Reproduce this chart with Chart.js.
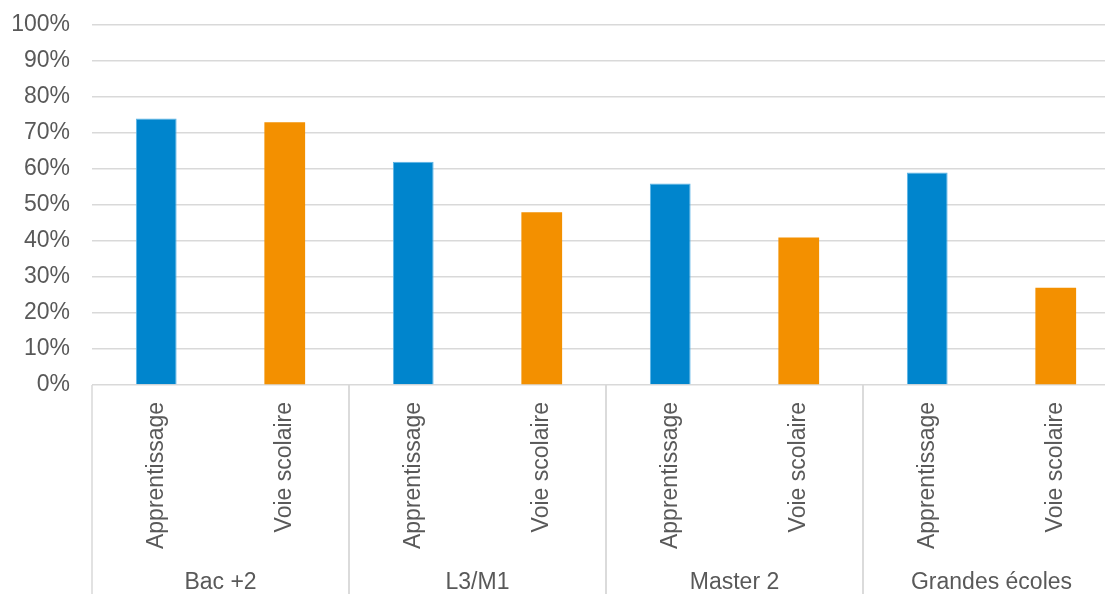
<!DOCTYPE html>
<html>
<head>
<meta charset="utf-8">
<script src="https://cdn.jsdelivr.net/npm/chart.js@4/dist/chart.umd.min.js"></script>
<style>
  html, body { margin: 0; padding: 0; overflow: hidden; background: #fff; }
  #wrap { width: 1120px; height: 594px; }
</style>
</head>
<body>
<div id="wrap"><canvas id="barChart"></canvas></div>
<script>
const groups = ['Bac +2', 'L3/M1', 'Master 2', 'Grandes écoles'];
const seriesNames = ['Apprentissage', 'Voie scolaire'];
const apprentissage = [74, 62, 56, 59];
const voieScolaire = [73, 48, 41, 27];
const yTickStep = 10;

const textColor = '#595959';
const lineColor = '#D9D9D9';
const fontSize = 23;
const font = fontSize + 'px "Liberation Sans", Arial, sans-serif';

// two-level x axis: rotated series names under each bar, group names below
const groupAxis = {
    id: 'groupAxis',
    afterDraw(chart) {
        const ctx = chart.ctx;
        const area = chart.chartArea;
        const x = chart.scales.x;
        ctx.save();
        ctx.font = font;
        ctx.fillStyle = textColor;
        chart.data.datasets.forEach((ds, i) => {
            chart.getDatasetMeta(i).data.forEach(bar => {
                ctx.save();
                ctx.translate(bar.x, area.bottom + 17);
                ctx.rotate(-Math.PI / 2);
                ctx.textAlign = 'right';
                ctx.textBaseline = 'middle';
                ctx.fillText(seriesNames[i], 0, 0);
                ctx.restore();
            });
        });
        const half = (x.getPixelForValue(1) - x.getPixelForValue(0)) / 2;
        ctx.strokeStyle = lineColor;
        ctx.lineWidth = 1.5;
        groups.forEach((g, j) => {
            const cx = x.getPixelForValue(j);
            [cx - half, cx + half].forEach(bx => {
                ctx.beginPath();
                ctx.moveTo(bx, area.bottom);
                ctx.lineTo(bx, chart.height);
                ctx.stroke();
            });
            ctx.textAlign = 'center';
            ctx.textBaseline = 'middle';
            ctx.fillText(g, cx, 583);
        });
        ctx.restore();
    }
};

const barCtx = document.getElementById('barChart').getContext('2d');
new Chart(barCtx, {
    type: 'bar',
    data: {
        labels: groups,
        datasets: [{
            label: seriesNames[0],
            data: apprentissage,
            backgroundColor: '#0085CD',
            borderColor: '#5BB4E6',
            borderWidth: 1,
            categoryPercentage: 1,
            barPercentage: 0.317
        }, {
            label: seriesNames[1],
            data: voieScolaire,
            backgroundColor: '#F39000',
            categoryPercentage: 1,
            barPercentage: 0.317
        }]
    },
    options: {
        responsive: true,
        maintainAspectRatio: false,
        animation: false,
        layout: { padding: { top: 25, bottom: 201, left: 0, right: 0 } },
        plugins: {
            legend: { display: false },
            tooltip: { enabled: false }
        },
        scales: {
            x: {
                ticks: { display: false },
                grid: { display: false },
                border: { display: false }
            },
            y: {
                min: 0,
                max: 100,
                afterFit(scale) {
                    scale.width = 92;
                    scale.paddingTop = 0;
                    scale.paddingBottom = 0;
                },
                ticks: {
                    stepSize: yTickStep,
                    padding: 22,
                    color: textColor,
                    font: { family: '"Liberation Sans", Arial, sans-serif', size: fontSize },
                    callback: v => v + '%'
                },
                grid: { color: lineColor, lineWidth: 1.5, drawTicks: false },
                border: { display: false }
            }
        }
    },
    plugins: [groupAxis]
});
</script>
</body>
</html>
